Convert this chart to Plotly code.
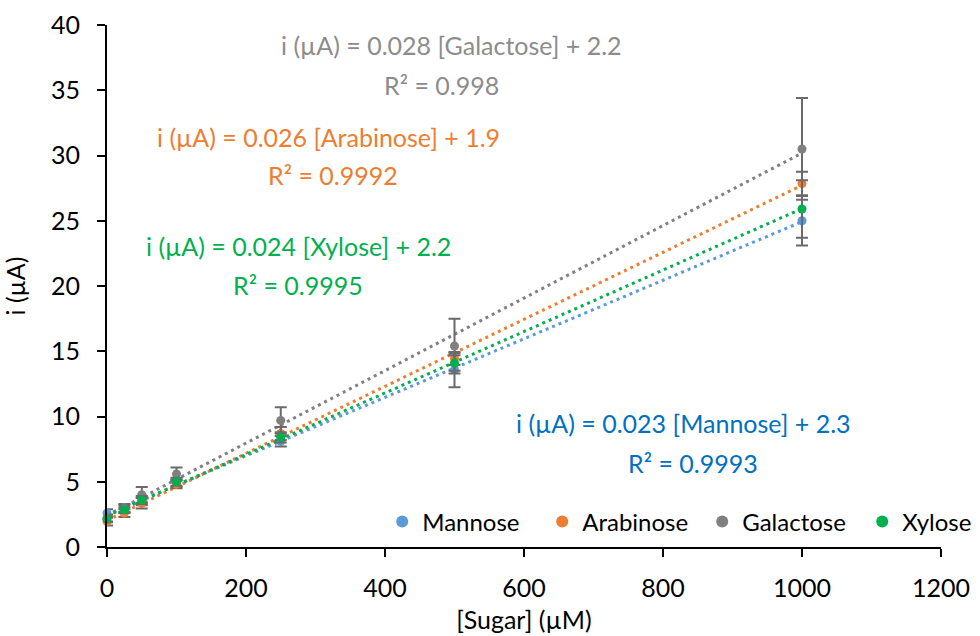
import numpy as np
import plotly.graph_objects as go

# ---- data ----
sugar_uM = [0, 25, 50, 100, 250, 500, 1000]
series_names = ["Mannose", "Arabinose", "Galactose", "Xylose"]
mannose = [2.6, 3.0, 3.5, 4.9, 8.1, 13.55, 25.0]
arabinose = [1.95, 2.6, 3.35, 4.8, 8.7, 14.45, 27.85]
galactose = [2.2, 2.9, 4.0, 5.6, 9.7, 15.4, 30.5]
xylose = [2.15, 2.85, 3.6, 5.0, 8.4, 14.1, 25.9]
mannose_err = [0.3, 0.3, 0.3, 0.3, 0.4, 1.3, 1.9]
arabinose_err = [0.3, 0.3, 0.4, 0.3, 0.5, 0.5, 0.9]
galactose_err = [0.3, 0.3, 0.6, 0.5, 1.0, 2.1, 3.9]
xylose_err = [0.2, 0.2, 0.3, 0.3, 0.4, 0.6, 2.2]

equations = [
    "i (µA) = 0.023 [Mannose] + 2.3",
    "i (µA) = 0.026 [Arabinose] + 1.9",
    "i (µA) = 0.028 [Galactose] + 2.2",
    "i (µA) = 0.024 [Xylose] + 2.2",
]
r2_labels = ["R² = 0.9993", "R² = 0.9992", "R² = 0.998", "R² = 0.9995"]

values = [mannose, arabinose, galactose, xylose]
errors = [mannose_err, arabinose_err, galactose_err, xylose_err]

# ---- styles ----
marker_colors = ["#5B9BD5", "#ED7D31", "#808080", "#00B050"]
label_colors = ["#0070C0", "#ED7D31", "#8C8C8C", "#00B050"]
# label positions (data coords): (x1, y1, x2, y2)
label_pos = [
    (829, 9.5, 843, 6.4),
    (319, 31.4, 325, 28.5),
    (495, 38.5, 482, 35.4),
    (275, 23.1, 275, 20.1),
]
FONT = "Lato, Carlito, Calibri, sans-serif"

fig = go.Figure()

# trendlines (dotted, least-squares fit of each series)
for name, vals, col in zip(series_names, values, marker_colors):
    slope, icpt = np.polyfit(sugar_uM, vals, 1)
    xs = [min(sugar_uM), max(sugar_uM)]
    fig.add_trace(go.Scatter(
        x=xs, y=[slope * v + icpt for v in xs], mode="lines",
        line=dict(color=col, width=3, dash="3px,4px"),
        showlegend=False, hoverinfo="skip", cliponaxis=False))

# data points with error bars
for name, vals, errs, col in zip(series_names, values, errors, marker_colors):
    fig.add_trace(go.Scatter(
        x=sugar_uM, y=vals, mode="markers", name=name,
        marker=dict(color=col, size=9),
        error_y=dict(type="data", array=errs, visible=True,
                     color="#6A6A6A", thickness=2, width=6),
        cliponaxis=False))

for eq, r2, col, (x1, y1, x2, y2) in zip(equations, r2_labels, label_colors, label_pos):
    fig.add_annotation(x=x1, y=y1, xref="x", yref="y", text=eq, showarrow=False,
                       font=dict(family=FONT, size=25, color=col))
    fig.add_annotation(x=x2, y=y2, xref="x", yref="y", text=r2, showarrow=False,
                       font=dict(family=FONT, size=25, color=col))

axis_common = dict(showline=True, linecolor="#000000", linewidth=2,
                   ticks="outside", ticklen=8, tickwidth=2, tickcolor="#000000",
                   showgrid=False, zeroline=False,
                   tickfont=dict(family=FONT, size=25, color="#000000"))

fig.update_xaxes(range=[0, 1200], dtick=200, tick0=0,
                 title=dict(text="[Sugar] (µM)", standoff=10,
                            font=dict(family=FONT, size=25, color="#000000")),
                 ticklabelstandoff=10, **axis_common)
fig.update_yaxes(range=[0, 40], dtick=5, tick0=0,
                 title=dict(text="i (µA)", standoff=24,
                            font=dict(family=FONT, size=25, color="#000000")),
                 ticklabelstandoff=12, **axis_common)

fig.update_layout(
    width=980, height=636,
    margin=dict(l=107, r=39, t=25, b=89, autoexpand=False),
    paper_bgcolor="white", plot_bgcolor="white",
    font=dict(family=FONT, color="#000000"),
    legend=dict(orientation="h", x=0.33, xanchor="left", y=0.048, yanchor="middle",
                entrywidth=115, entrywidthmode="pixels",
                font=dict(family=FONT, size=24, color="#000000"),
                itemsizing="constant", bgcolor="rgba(0,0,0,0)", traceorder="normal"),
)

fig.write_html("out.html")
